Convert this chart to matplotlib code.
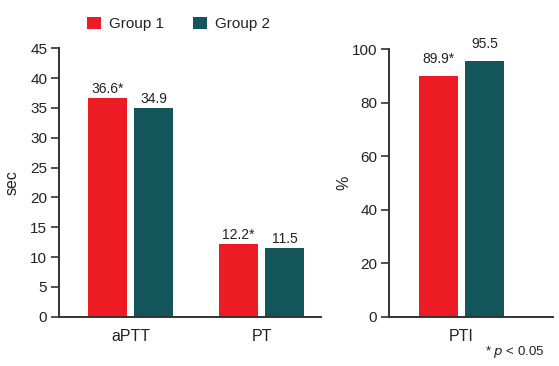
import matplotlib.pyplot as plt
import numpy as np

plt.rcParams['font.family'] = ['Liberation Sans', 'DejaVu Sans']

groups = ['Group 1', 'Group 2']
colors = ['#ED1C24', '#13555B']

cats_sec = ['aPTT', 'PT']
g1_sec = [36.6, 12.2]
g2_sec = [34.9, 11.5]
lab1_sec = ['36.6*', '12.2*']
lab2_sec = ['34.9', '11.5']

cats_pct = ['PTI']
g1_pct = [89.9]
g2_pct = [95.5]
lab1_pct = ['89.9*']
lab2_pct = ['95.5']

W, H = 559, 366
fig = plt.figure(figsize=(W / 100, H / 100), dpi=100)
ax1 = fig.add_axes([59 / W, 49.3 / H, 262 / W, 268.5 / H])
ax2 = fig.add_axes([389 / W, 49.3 / H, 164 / W, 267.4 / H])

bw = 0.298
off = 0.176
spine_col = '#333333'
txt_col = '#222222'


def style(ax):
    for s in ['top', 'right']:
        ax.spines[s].set_visible(False)
    for s in ['left', 'bottom']:
        ax.spines[s].set_color(spine_col)
        ax.spines[s].set_linewidth(1.4)
    ax.tick_params(axis='y', direction='out', length=5.5, width=1.2,
                   color=spine_col, labelsize=11, pad=3, labelcolor=txt_col)
    ax.tick_params(axis='x', length=0, labelsize=11.5, pad=9,
                   labelcolor=txt_col)


def label_bars(ax, bars, texts, dy):
    for r, t in zip(bars, texts):
        ax.annotate(t, (r.get_x() + r.get_width() / 2, r.get_height()),
                    xytext=(0, dy), textcoords='offset points',
                    ha='center', va='bottom', fontsize=10, color=txt_col)


x = np.arange(len(cats_sec))
b1 = ax1.bar(x - off, g1_sec, bw, color=colors[0], label=groups[0])
b2 = ax1.bar(x + off, g2_sec, bw, color=colors[1], label=groups[1])
label_bars(ax1, b1, lab1_sec, 1.5)
label_bars(ax1, b2, lab2_sec, 1.5)
ax1.set_xlim(-0.549, 1.455)
ax1.set_ylim(0, 45)
ax1.set_yticks(np.arange(0, 46, 5))
ax1.set_xticks(x)
ax1.set_xticklabels(cats_sec)
ax1.set_ylabel('sec', fontsize=11.5, color=txt_col)
ax1.yaxis.set_label_coords((20 - 59) / 262, (317 - 182.5) / 268.5)
style(ax1)

x2 = np.arange(len(cats_pct))
c1 = ax2.bar(x2 - off, g1_pct, bw, color=colors[0])
c2 = ax2.bar(x2 + off, g2_pct, bw, color=colors[1])
label_bars(ax2, c1, lab1_pct, 7.5)
label_bars(ax2, c2, lab2_pct, 7.5)
ax2.set_xlim(-0.555, 0.700)
ax2.set_ylim(0, 100)
ax2.set_yticks(np.arange(0, 101, 20))
ax2.set_xticks(x2)
ax2.set_xticklabels(cats_pct)
ax2.set_ylabel('%', fontsize=11.5, color=txt_col)
ax2.yaxis.set_label_coords((351 - 389) / 164, (317 - 182.7) / 267.4)
style(ax2)

fig.legend(handles=[b1, b2], labels=groups, loc='center left',
           bbox_to_anchor=(87 / W, 1 - 24 / H), ncol=2, frameon=False,
           fontsize=11, handlelength=0.9, handleheight=0.9,
           handletextpad=0.55, columnspacing=1.9, borderpad=0,
           borderaxespad=0, labelcolor=txt_col)

fig.text(545 / W, 1 - 352 / H, r'* $\it{p}$ < 0.05', ha='right', va='center',
         fontsize=9.5, color=txt_col)

fig.savefig('out.png', dpi=100)
